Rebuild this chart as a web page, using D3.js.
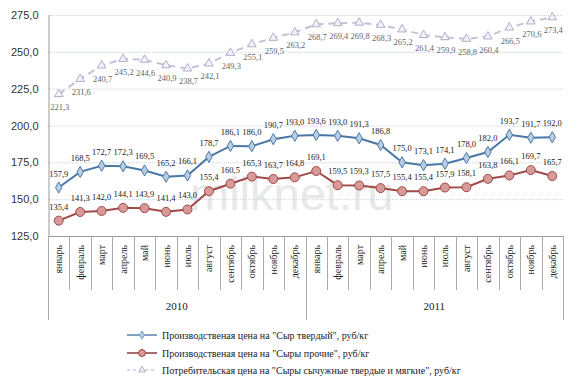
<!DOCTYPE html>
<html>
<head>
<meta charset="utf-8">
<script src="https://cdn.jsdelivr.net/npm/d3@7"></script>
<style>
  html, body { margin: 0; padding: 0; background: #fff; }
  svg { display: block; }
</style>
</head>
<body>
<div id="chart"></div>
<script>
/* Цены на сыры, 2010–2011 — D3 line chart */

const months = ['январь', 'февраль', 'март', 'апрель', 'май', 'июнь', 'июль',
    'август', 'сентябрь', 'октябрь', 'ноябрь', 'декабрь'];
const years = ['2010', '2011'];

const hardCheese = [157.9, 168.5, 172.7, 172.3, 169.5, 165.2, 166.1, 178.7, 186.1, 186.0, 190.7, 193.0,
    193.6, 193.0, 191.3, 186.8, 175.0, 173.1, 174.1, 178.0, 182.0, 193.7, 191.7, 192.0];
const otherCheese = [135.4, 141.3, 142.0, 144.1, 143.9, 141.4, 143.0, 155.4, 160.5, 165.3, 163.7, 164.8,
    169.1, 159.5, 159.3, 157.5, 155.4, 155.4, 157.9, 158.1, 163.8, 166.1, 169.7, 165.7];
const consumer = [221.3, 231.6, 240.7, 245.2, 244.6, 240.9, 238.7, 242.1, 249.3, 255.1, 259.5, 263.2,
    268.7, 269.4, 269.8, 268.3, 265.2, 261.4, 259.9, 258.8, 260.4, 266.5, 270.6, 273.4];
const yTicks = [125, 150, 175, 200, 225, 250, 275];

const seriesNames = [
    'Производственая цена на "Сыр твердый", руб/кг',
    'Производственая цена на "Сыры прочие",  руб/кг',
    'Потребительская цена на "Сыры сычужные твердые и мягкие", руб/кг'
];

(function() {
    const width = 580, height = 388;
    const serif = '"Liberation Serif", "Times New Roman", "DejaVu Serif", serif';
    const sans = '"Liberation Sans", Arial, sans-serif';

    const svg = d3.select('#chart').append('svg')
        .attr('width', width)
        .attr('height', height);

    const cats = [];
    years.forEach(y => months.forEach(m => cats.push(y + '-' + m)));

    const x = d3.scaleBand().domain(cats).range([48, 563]);
    const y = d3.scaleLinear().domain([125, 275]).range([236, 15]);
    const cx = i => x(cats[i]) + x.bandwidth() / 2;

    // watermark
    svg.append('text')
        .attr('x', 190).attr('y', 210)
        .attr('font-family', sans)
        .attr('font-size', '47px')
        .attr('fill', '#e8e8e8')
        .text('milknet.ru');

    // gridlines
    svg.append('g').selectAll('line')
        .data(yTicks.slice(1))
        .enter().append('line')
        .attr('x1', 48).attr('x2', 563)
        .attr('y1', d => y(d) + 0.5).attr('y2', d => y(d) + 0.5)
        .attr('stroke', '#c8d4dc')
        .attr('stroke-dasharray', '1,1');

    // y axis
    const yAxis = svg.append('g')
        .attr('transform', 'translate(48.5,0)')
        .call(d3.axisLeft(y).tickValues(yTicks).tickSize(0).tickPadding(10)
            .tickFormat(d => d3.format('.1f')(d).replace('.', ',')));
    yAxis.select('.domain').attr('stroke', '#999');
    yAxis.selectAll('text')
        .attr('font-family', sans)
        .attr('font-size', '11px')
        .attr('fill', '#333');

    // x axis baseline
    svg.append('line')
        .attr('x1', 48).attr('x2', 563)
        .attr('y1', 236.5).attr('y2', 236.5)
        .attr('stroke', '#999');

    // category separators
    const bounds = d3.range(cats.length + 1);
    svg.append('g').selectAll('line')
        .data(bounds)
        .enter().append('line')
        .attr('x1', i => Math.round(i < cats.length ? x(cats[i]) : x.range()[1]) + 0.5)
        .attr('x2', i => Math.round(i < cats.length ? x(cats[i]) : x.range()[1]) + 0.5)
        .attr('y1', 236)
        .attr('y2', i => (i % 12 === 0) ? 320 : 290)
        .attr('stroke', '#aaa');

    // month labels
    svg.append('g').selectAll('text')
        .data(cats)
        .enter().append('text')
        .attr('transform', (d, i) => `translate(${cx(i) + 3.5},245) rotate(-90)`)
        .attr('text-anchor', 'end')
        .attr('font-family', serif)
        .attr('font-size', '10px')
        .attr('fill', '#222')
        .text(d => d.split('-')[1]);

    // year labels
    years.forEach(function(yr, k) {
        svg.append('text')
            .attr('x', (cx(k * 12) + cx(k * 12 + 11)) / 2)
            .attr('y', 310)
            .attr('text-anchor', 'middle')
            .attr('font-family', serif)
            .attr('font-size', '11px')
            .attr('fill', '#222')
            .text(yr);
    });

    const fmt = v => d3.format('.1f')(v).replace('.', ',');
    const line = d3.line().x((d, i) => cx(i)).y(d => y(d));

    // consumer price (dashed, triangles)
    svg.append('path')
        .datum(consumer)
        .attr('d', line)
        .attr('fill', 'none')
        .attr('stroke', '#c7c0d8')
        .attr('stroke-width', 2)
        .attr('stroke-dasharray', '7,5');
    svg.append('g').selectAll('path')
        .data(consumer)
        .enter().append('path')
        .attr('d', d3.symbol().type(d3.symbolTriangle).size(32))
        .attr('transform', (d, i) => `translate(${cx(i)},${y(d)})`)
        .attr('fill', '#f4f2f8')
        .attr('stroke', '#b3abc9');
    svg.append('g').selectAll('text')
        .data(consumer)
        .enter().append('text')
        .attr('x', (d, i) => cx(i) + 1)
        .attr('y', d => y(d) + 16)
        .attr('text-anchor', 'middle')
        .attr('font-family', serif)
        .attr('font-size', '8.5px')
        .attr('fill', '#666')
        .text(fmt);

    // hard cheese (blue, diamonds)
    svg.append('path')
        .datum(hardCheese)
        .attr('d', line)
        .attr('fill', 'none')
        .attr('stroke', '#4a78a6')
        .attr('stroke-width', 2);
    svg.append('g').selectAll('path')
        .data(hardCheese)
        .enter().append('path')
        .attr('d', d3.symbol().type(d3.symbolDiamond).size(36))
        .attr('transform', (d, i) => `translate(${cx(i)},${y(d)})`)
        .attr('fill', '#b9cde4')
        .attr('stroke', '#4a78a6');
    svg.append('g').selectAll('text')
        .data(hardCheese)
        .enter().append('text')
        .attr('x', (d, i) => cx(i))
        .attr('y', d => y(d) - 11)
        .attr('text-anchor', 'middle')
        .attr('font-family', serif)
        .attr('font-size', '8.5px')
        .attr('fill', '#222')
        .text(fmt);

    // other cheese (red, circles)
    svg.append('path')
        .datum(otherCheese)
        .attr('d', line)
        .attr('fill', 'none')
        .attr('stroke', '#a04a48')
        .attr('stroke-width', 2);
    svg.append('g').selectAll('circle')
        .data(otherCheese)
        .enter().append('circle')
        .attr('cx', (d, i) => cx(i))
        .attr('cy', d => y(d))
        .attr('r', 4.5)
        .attr('fill', '#d79a98')
        .attr('stroke', '#a04a48');
    svg.append('g').selectAll('text')
        .data(otherCheese)
        .enter().append('text')
        .attr('x', (d, i) => cx(i))
        .attr('y', d => y(d) - 11)
        .attr('text-anchor', 'middle')
        .attr('font-family', serif)
        .attr('font-size', '8.5px')
        .attr('fill', '#222')
        .text(fmt);

    // legend
    const legend = svg.append('g').attr('transform', 'translate(127,0)');
    const legendY = [335, 353, 370];

    const l0 = legend.append('g').attr('transform', `translate(0,${legendY[0]})`);
    l0.append('line').attr('x1', 0).attr('x2', 30).attr('stroke', '#7fa2c4').attr('stroke-width', 2);
    l0.append('path').attr('d', d3.symbol().type(d3.symbolDiamond).size(20))
        .attr('transform', 'translate(15,0)').attr('fill', '#b9cde4').attr('stroke', '#7fa2c4');

    const l1 = legend.append('g').attr('transform', `translate(0,${legendY[1]})`);
    l1.append('line').attr('x1', 0).attr('x2', 30).attr('stroke', '#8a3b3a').attr('stroke-width', 1.5);
    l1.append('circle').attr('cx', 15).attr('cy', 0).attr('r', 3.5)
        .attr('fill', '#d79a98').attr('stroke', '#a04a48');

    const l2 = legend.append('g').attr('transform', `translate(0,${legendY[2]})`);
    l2.append('line').attr('x1', 0).attr('x2', 30).attr('stroke', '#cfc9de')
        .attr('stroke-width', 1.5).attr('stroke-dasharray', '3,3');
    l2.append('path').attr('d', d3.symbol().type(d3.symbolTriangle).size(18))
        .attr('transform', 'translate(15,0)').attr('fill', '#f4f2f8').attr('stroke', '#b3abc9');

    seriesNames.forEach(function(name, i) {
        legend.append('text')
            .attr('x', 35)
            .attr('y', legendY[i] + 3.5)
            .attr('font-family', serif)
            .attr('font-size', '10px')
            .attr('fill', '#222')
            .text(name);
    });
})();
</script>
</body>
</html>
